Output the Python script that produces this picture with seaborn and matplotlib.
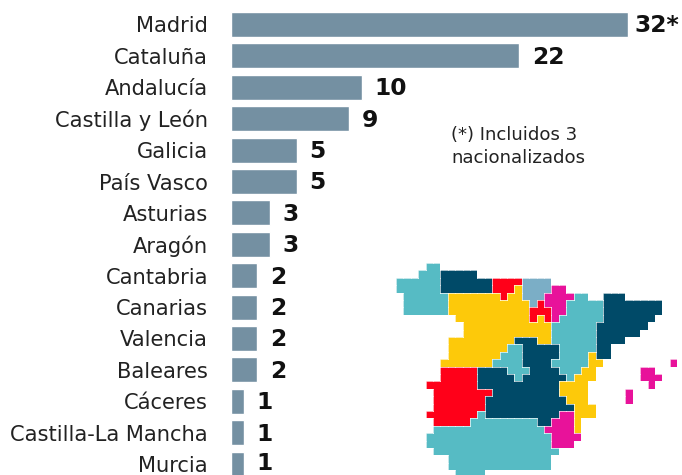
#!/usr/bin/env python3

import numpy as np
import pandas as pd
from matplotlib import pyplot as plt
from matplotlib.collections import LineCollection
from matplotlib.colors import ListedColormap
import seaborn as sns

regions = ['Madrid', 'Cataluña', 'Andalucía', 'Castilla y León', 'Galicia',
           'País Vasco', 'Asturias', 'Aragón', 'Cantabria', 'Canarias',
           'Valencia', 'Baleares', 'Cáceres', 'Castilla-La Mancha', 'Murcia']
# the Madrid bar is drawn shorter than its label in the original
bar_lengths = [30.3, 22, 10, 9, 5, 5, 3, 3, 2, 2, 2, 2, 1, 1, 1]
value_labels = ['32*', '22', '10', '9', '5', '5', '3', '3', '2', '2', '2', '2', '1', '1', '1']
note_text = '(*) Incluidos 3\nnacionalizados'

# tile map: (row, first column, last column) for each area
galicia = [(0, 4, 5), (1, 3, 5), (2, 0, 5), (3, 0, 5), (4, 1, 6), (5, 1, 6), (6, 1, 6)]
asturias = [(1, 6, 10), (2, 6, 12), (3, 6, 12)]
cantabria = [(2, 13, 16), (3, 13, 15), (4, 14, 14)]
pais_vasco = [(2, 17, 20), (3, 17, 20), (4, 17, 19), (5, 18, 18)]
navarra = [(3, 21, 22), (4, 20, 23), (5, 20, 22), (6, 21, 22), (7, 21, 21)]
rioja = [(5, 19, 19), (6, 18, 20), (7, 18, 18), (7, 20, 20)]
castilla_leon = [(3, 16, 16), (4, 7, 13), (4, 15, 16), (5, 7, 17), (6, 7, 17), (7, 8, 17),
                 (7, 19, 19), (8, 9, 20), (9, 9, 20), (10, 7, 15), (10, 19, 20),
                 (11, 7, 14), (12, 7, 13), (13, 6, 12)]
aragon = [(4, 24, 25), (5, 23, 27), (6, 23, 27), (7, 22, 27), (8, 21, 26), (9, 21, 26),
          (10, 21, 26), (11, 22, 26), (12, 22, 25), (13, 21, 25), (14, 22, 24), (15, 23, 23)]
cataluna = [(4, 28, 30), (5, 28, 35), (6, 28, 35), (7, 28, 34), (8, 27, 33), (9, 27, 32),
            (10, 27, 30), (11, 27, 28), (12, 27, 28)]
valencia = [(12, 26, 26), (13, 26, 27), (14, 25, 26), (15, 24, 26), (16, 22, 25), (17, 22, 25),
            (18, 23, 25), (19, 24, 26), (20, 24, 26), (21, 24, 24), (22, 24, 24)]
madrid = [(11, 15, 16), (12, 14, 16), (13, 13, 16), (14, 15, 17), (15, 16, 16)]
la_mancha = [(10, 16, 18), (11, 17, 21), (12, 17, 21), (13, 17, 20), (14, 11, 14), (14, 18, 21),
             (15, 11, 15), (15, 17, 22), (16, 11, 21), (17, 13, 21), (18, 12, 22), (19, 12, 23),
             (20, 12, 21), (21, 19, 20)]
extremadura = [(14, 6, 10), (15, 6, 10), (16, 4, 10), (17, 5, 12), (18, 5, 11), (19, 5, 11),
               (20, 4, 10), (21, 5, 9)]
murcia = [(20, 22, 23), (21, 21, 23), (22, 20, 23), (23, 21, 24), (24, 21, 23)]
andalucia = [(20, 11, 12), (21, 10, 18), (22, 5, 19), (23, 4, 20), (24, 4, 20), (25, 5, 21),
             (26, 7, 20), (27, 7, 20), (28, 8, 11)]
baleares = [(13, 37, 37), (14, 33, 34), (15, 33, 35), (16, 34, 34), (17, 31, 31), (18, 31, 31)]

teal, navy, red, yellow, pink, steel = '#56BBC4', '#004A68', '#FF0019', '#FDC90A', '#E8129A', '#7BAEC6'
map_palette = [teal, navy, red, yellow, pink, steel]
map_areas = [(galicia, 0), (aragon, 0), (madrid, 0), (andalucia, 0),
             (asturias, 1), (cataluna, 1), (la_mancha, 1),
             (cantabria, 2), (rioja, 2), (extremadura, 2),
             (castilla_leon, 3), (valencia, 3),
             (navarra, 4), (murcia, 4), (baleares, 4),
             (pais_vasco, 5)]

sns.set_style('white')
plt.rcParams['font.family'] = ['DejaVu Sans']

df = pd.DataFrame({'region': regions, 'length': bar_lengths})

W, H = 682, 475
fig = plt.figure(figsize=(W / 100, H / 100), dpi=100)

# main bars
ax = fig.add_axes([231 / W, 0, 1 - 231 / W, 1])
sns.barplot(data=df, y='region', x='length', color='#7490A2', saturation=1,
            width=0.79, ax=ax)
ax.set_xlim(0, (W - 231) / 13.1)
ax.set_ylim((H - 24.5) / 31.4, -24.5 / 31.4)
ax.set(xlabel=None, ylabel=None, xticks=[])
ax.tick_params(axis='y', length=0, pad=16.5, labelsize=15.1, labelcolor='#222222')
sns.despine(ax=ax, left=True, bottom=True)

for i, label in enumerate(value_labels):
    pad = 5 if label.endswith('*') else 9
    drop = 0.3 if i == len(value_labels) - 1 else -1  # keep the last one inside the figure
    ax.annotate(label, (bar_lengths[i], i), xytext=(pad, drop), textcoords='offset points',
                va='center', ha='left', fontsize=16.8, fontweight='bold', color='#111111',
                annotation_clip=False)

fig.text(451 / W, 1 - 125.5 / H, note_text, fontsize=13.1, color='#222222',
         va='top', ha='left', linespacing=1.38)

# tile map, one heatmap cell per tile
n_rows, n_cols = 29, 38
grid = np.full((n_rows, n_cols), np.nan)
for spans, code in map_areas:
    for row, first, last in spans:
        grid[row, first:last + 1] = code

cell = 7.4
map_left, map_top = 396, 263
ax_map = fig.add_axes([map_left / W, 1 - (map_top + n_rows * cell) / H,
                       n_cols * cell / W, n_rows * cell / H])
sns.heatmap(grid, cmap=ListedColormap(map_palette), vmin=-0.5, vmax=5.5, cbar=False,
            xticklabels=False, yticklabels=False, ax=ax_map)

# white outline between areas
area_id = np.full((n_rows + 2, n_cols + 2), -1)
for k, (spans, code) in enumerate(map_areas):
    for row, first, last in spans:
        area_id[row + 1, first + 1:last + 2] = k
segments = []
for r in range(n_rows + 1):
    for c in range(n_cols + 1):
        if area_id[r, c] != area_id[r, c + 1]:
            segments.append([(c, r - 1), (c, r)])
        if area_id[r, c] != area_id[r + 1, c]:
            segments.append([(c - 1, r), (c, r)])
ax_map.add_collection(LineCollection(segments, colors='white', linewidths=0.55, alpha=0.85,
                                     capstyle='projecting'))

plt.savefig('out.png', dpi=100)
